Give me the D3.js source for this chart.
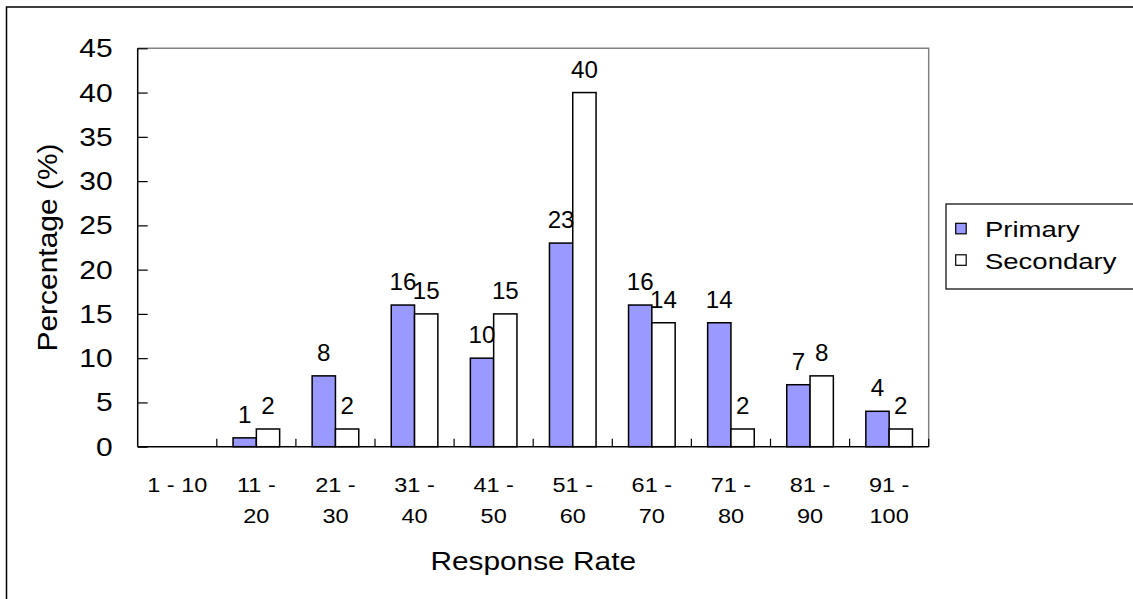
<!DOCTYPE html>
<html>
<head>
<meta charset="utf-8">
<script src="https://cdn.jsdelivr.net/npm/d3@7"></script>
<style>
  html, body { margin: 0; padding: 0; background: #fff; }
  svg { display: block; }
  text { font-family: "Liberation Sans", Arial, sans-serif; fill: #000; }
</style>
</head>
<body>
<svg id="chart" width="1133" height="599"></svg>
<script>
// Response-rate bands and the share of schools in each band
const categories = ["1 - 10", "11 - 20", "21 - 30", "31 - 40", "41 - 50",
                    "51 - 60", "61 - 70", "71 - 80", "81 - 90", "91 - 100"];
const seriesNames = ["Primary", "Secondary"];
const primaryValues   = [0, 1, 8, 16, 10, 23, 16, 14, 7, 4];
const secondaryValues = [0, 2, 2, 15, 15, 40, 14, 2, 8, 2];
const yTicks = [0, 5, 10, 15, 20, 25, 30, 35, 40, 45];
const yTitle = "Percentage (%)";
const xTitle = "Response Rate";

const seriesColors = { Primary: "#9999FF", Secondary: "#FFFFFF" };

const svg = d3.select("#chart");

// Outer chart frame (runs past the right and bottom edges)
svg.append("rect")
  .attr("x", 6.5).attr("y", 7).attr("width", 1200).attr("height", 700)
  .attr("fill", "none").attr("stroke", "#000").attr("stroke-width", 1.5);

const plot = { left: 137.7, top: 48.3, right: 928.7, bottom: 446.7 };

const x = d3.scaleBand().domain(categories).range([plot.left, plot.right]).paddingInner(0).paddingOuter(0);
const xs = d3.scaleBand().domain(seriesNames).range([0, x.bandwidth()]).paddingInner(0).paddingOuter(0.697);
const y = d3.scaleLinear().domain([0, 45]).range([plot.bottom, plot.top]);

// Text helper: horizontally widened glyphs
function stretched(sel, sx) {
  return sel.attr("transform", function () {
    const tx = +this.getAttribute("data-x"), ty = +this.getAttribute("data-y");
    const rot = this.getAttribute("data-r");
    return `translate(${tx},${ty})` + (rot ? ` rotate(${rot})` : "") + ` scale(${sx},1)`;
  });
}

// Plot area border: gray top and right
svg.append("path")
  .attr("d", `M${plot.left},${plot.top}H${plot.right}V${plot.bottom}`)
  .attr("fill", "none").attr("stroke", "#808080").attr("stroke-width", 1.5);

// Bars
const rows = categories.map((c, i) => ({ cat: c, Primary: primaryValues[i], Secondary: secondaryValues[i] }));
const groups = svg.append("g").selectAll("g").data(rows).join("g")
  .attr("transform", d => `translate(${x(d.cat)},0)`);

groups.selectAll("rect")
  .data(d => seriesNames.map(s => ({ s, v: d[s] })).filter(e => e.v > 0))
  .join("rect")
  .attr("x", e => xs(e.s))
  .attr("y", e => y(e.v))
  .attr("width", xs.bandwidth())
  .attr("height", e => y(0) - y(e.v))
  .attr("fill", e => seriesColors[e.s])
  .attr("stroke", "#000").attr("stroke-width", 1.5);

// Value labels above bars
groups.selectAll("text.val")
  .data(d => seriesNames.map(s => ({ s, v: d[s] })).filter(e => e.v > 0))
  .join("text").attr("class", "val")
  .attr("data-x", e => xs(e.s) + xs.bandwidth() / 2)
  .attr("data-y", e => y(e.v) - 15)
  .attr("text-anchor", "middle")
  .style("font-size", "23px")
  .text(e => e.v)
  .call(stretched, 1.05);

// Y axis with inward ticks
const yAxis = d3.axisRight(y).tickValues(yTicks).tickSize(10).tickFormat("");
const yg = svg.append("g").attr("transform", `translate(${plot.left},0)`).call(yAxis);
yg.select(".domain").attr("stroke", "#000").attr("stroke-width", 1.5).attr("d", `M0,${plot.top}V${plot.bottom}`);
yg.selectAll(".tick line").attr("stroke", "#000").attr("stroke-width", 1.2);

svg.append("g").selectAll("text").data(yTicks).join("text")
  .attr("data-x", plot.left - 25)
  .attr("data-y", d => y(d) + 9)
  .attr("text-anchor", "end")
  .style("font-size", "25px")
  .text(d => d)
  .call(stretched, 1.2);

// X axis: baseline and inward tick marks at category boundaries
svg.append("line")
  .attr("x1", plot.left).attr("x2", plot.right)
  .attr("y1", plot.bottom).attr("y2", plot.bottom)
  .attr("stroke", "#000").attr("stroke-width", 1.5);
svg.append("g").selectAll("line").data(categories.slice(1).concat(["end"])).join("line")
  .attr("x1", d => d === "end" ? plot.right : x(d))
  .attr("x2", d => d === "end" ? plot.right : x(d))
  .attr("y1", plot.bottom).attr("y2", plot.bottom - 8)
  .attr("stroke", "#000").attr("stroke-width", 1.2);

// Category labels, wrapped after the dash
const xl = svg.append("g").selectAll("g").data(categories).join("g");
xl.each(function (c) {
  const parts = c === "1 - 10" ? [c] : [c.split(" - ")[0] + " -", c.split(" - ")[1]];
  d3.select(this).selectAll("text").data(parts).join("text")
    .attr("data-x", x(c) + x.bandwidth() / 2)
    .attr("data-y", (p, i) => 491.7 + i * 31.6)
    .attr("text-anchor", "middle")
    .style("font-size", "21px")
    .text(p => p)
    .call(stretched, 1.12);
});

// Axis titles
svg.append("text")
  .attr("data-x", (plot.left + plot.right) / 2).attr("data-y", 570)
  .attr("text-anchor", "middle").style("font-size", "25.5px")
  .text(xTitle).call(stretched, 1.17);

svg.append("text")
  .attr("data-x", 57.3).attr("data-y", (plot.top + plot.bottom) / 2).attr("data-r", -90)
  .attr("text-anchor", "middle").style("font-size", "28px")
  .text(yTitle).call(stretched, 1.07);

// Legend
const legend = svg.append("g");
legend.append("rect")
  .attr("x", 946).attr("y", 204).attr("width", 300).attr("height", 85)
  .attr("fill", "#fff").attr("stroke", "#000").attr("stroke-width", 1.2);
const li = legend.selectAll("g").data(seriesNames).join("g");
li.append("rect")
  .attr("x", 955.7).attr("y", (d, i) => 223.3 + i * 31.5)
  .attr("width", 10.5).attr("height", 10.5)
  .attr("fill", d => seriesColors[d]).attr("stroke", "#000").attr("stroke-width", 1.2);
li.append("text")
  .attr("data-x", 985).attr("data-y", (d, i) => 237.3 + i * 31.5)
  .style("font-size", "22px")
  .text(d => d).call(stretched, 1.25);
</script>
</body>
</html>
